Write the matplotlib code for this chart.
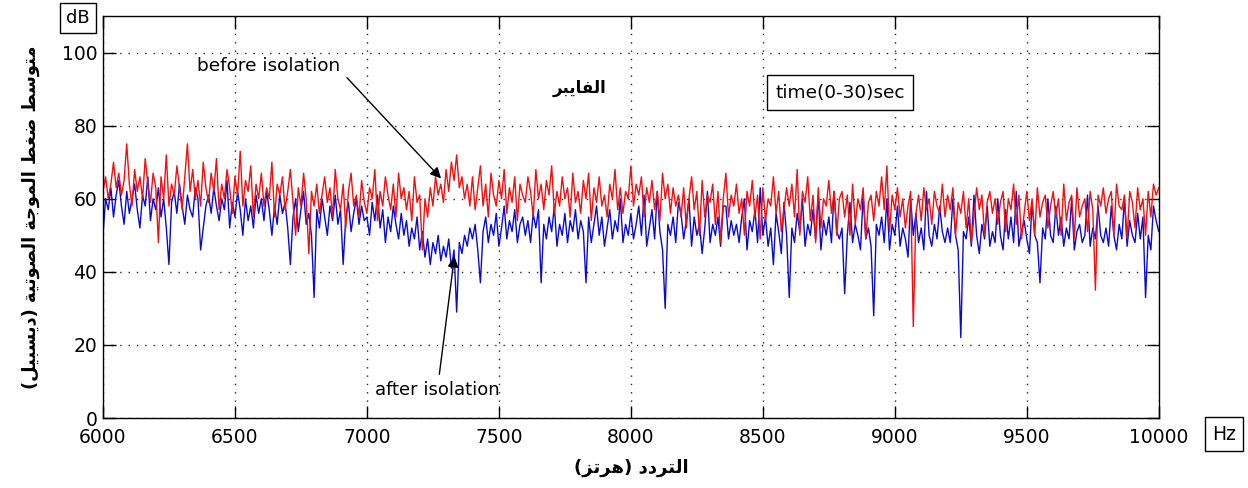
import numpy as np
from matplotlib import pyplot as plt

# ---data (10 Hz steps, 6000..10000 Hz)--------------------------------------
freq = np.arange(6000, 10001, 10)

before = [
    62, 66, 60, 64, 70, 63, 67, 61, 65, 75, 64, 58, 68, 62, 66, 60, 71, 64, 59, 67,
    63, 48, 66, 60, 72, 58, 64, 61, 69, 63, 57, 66, 75, 62, 68, 60, 65, 58, 70, 63,
    59, 67, 62, 71, 57, 64, 60, 68, 63, 56, 66, 61, 73, 58, 65, 62, 69, 55, 64, 60,
    67, 58, 63, 60, 70, 55, 64, 61, 66, 57, 62, 68, 59, 50, 63, 58, 67, 60, 45, 62,
    58, 64, 56, 61, 66, 59, 63, 55, 68, 60, 57, 64, 52, 62, 67, 58, 61, 55, 65, 59,
    56, 63, 60, 68, 54, 62, 58, 66, 61, 57, 64, 55, 67, 60, 63, 57, 62, 54, 66, 59,
    61, 46, 60, 55, 63, 58, 66, 61, 64, 59, 68, 62, 70, 65, 72, 63, 66, 60, 64, 58,
    66, 57, 63, 69, 58, 64, 55, 67, 61, 58, 65, 60, 68, 56, 63, 59, 66, 54, 64, 61,
    59, 66, 62, 55, 68, 60, 64, 57, 65, 61, 69, 56, 62, 58, 66, 60, 63, 55, 67, 59,
    62, 56, 65, 60, 67, 54, 63, 59, 66, 58, 61, 55, 64, 60, 68, 57, 63, 56, 62, 60,
    69, 58, 64, 61, 66, 55, 63, 59, 65, 57, 62, 54, 67, 60, 64, 56, 63, 58, 61, 55,
    63, 52, 60, 66, 57, 62, 50, 65, 55, 61, 59, 64, 53, 62, 48, 60, 67, 55, 61, 58,
    64, 56, 60, 50, 62, 58, 65, 55, 61, 49, 63, 54, 60, 58, 66, 56, 62, 51, 57, 63,
    58, 64, 55, 68, 50, 62, 59, 66, 54, 61, 48, 63, 52, 60, 58, 65, 56, 62, 50, 60,
    62, 55, 61, 50, 64, 53, 60, 57, 63, 49, 59, 61, 54, 62, 58, 66, 57, 69, 51, 61,
    57, 63, 55, 60, 52, 58, 62, 25, 56, 61, 54, 63, 57, 60, 53, 62, 58, 56, 64, 55,
    61, 57, 63, 50, 59, 56, 62, 52, 60, 48, 55, 63, 57, 61, 50, 59, 62, 56, 60, 53,
    59, 62, 51, 60, 57, 64, 53, 61, 49, 56, 62, 54, 60, 50, 63, 55, 59, 61, 52, 58,
    62, 55, 60, 50, 64, 54, 59, 61, 49, 63, 55, 58, 60, 51, 62, 57, 35, 61, 58, 63,
    56, 60, 62, 50, 64, 58, 57, 61, 49, 62, 59, 52, 63, 57, 60, 50, 62, 55, 64, 61,
    63]

after = [
    50, 60, 57, 63, 55, 61, 65, 58, 53, 62, 56, 60, 64, 57, 52, 61, 58, 66, 54, 60,
    57, 63, 55, 60, 52, 42, 59, 62, 56, 64, 58, 53, 61, 57, 55, 63, 60, 46, 52, 58,
    61, 56, 63, 58, 54, 60, 57, 65, 52, 59, 55, 62, 57, 50, 60, 54, 58, 52, 61, 56,
    60, 54, 62, 57, 50, 58, 53, 61, 56, 59, 52, 42, 55, 60, 51, 57, 62, 53, 56, 50,
    33, 57, 52, 60, 55, 50, 58, 54, 61, 53, 57, 42, 55, 59, 51, 56, 60, 53, 58, 54,
    55, 50, 59, 54, 61, 52, 57, 48, 55, 51, 58, 53, 49, 56, 50, 54, 47, 52, 49, 55,
    46, 51, 44, 49, 42, 48, 45, 50, 43, 47, 44, 49, 41, 46, 29, 48, 45, 50, 47, 52,
    49, 53, 46, 37, 51, 55, 48, 53, 50, 56, 47, 52, 58, 49, 54, 51, 57, 48, 53, 55,
    50, 54, 48, 56, 52, 57, 37, 53, 49, 55, 51, 58, 47, 53, 50, 56, 48, 54, 51, 57,
    49, 54, 51, 37, 55, 48, 53, 58, 50, 55, 47, 52, 57, 49, 54, 51, 60, 48, 53, 50,
    56, 49, 53, 58, 50, 61, 47, 52, 57, 49, 62, 51, 46, 30, 53, 50, 55, 48, 59, 56,
    49, 54, 60, 47, 55, 50, 53, 45, 52, 62, 48, 53, 50, 55, 47, 58, 58, 49, 54, 50,
    53, 48, 55, 60, 46, 54, 51, 57, 48, 63, 50, 55, 47, 52, 42, 56, 51, 45, 59, 50,
    33, 52, 48, 56, 51, 60, 47, 53, 50, 57, 49, 61, 46, 54, 50, 55, 48, 62, 51, 49,
    52, 34, 50, 59, 48, 53, 50, 46, 61, 49, 52, 47, 28, 53, 50, 55, 48, 60, 46, 53,
    50, 58, 47, 52, 49, 44, 60, 50, 56, 48, 52, 46, 62, 50, 47, 53, 49, 58, 51, 48,
    52, 48, 60, 50, 46, 22, 51, 49, 55, 47, 61, 50, 45, 53, 49, 58, 47, 51, 48, 60,
    50, 46, 57, 49, 55, 48, 62, 47, 51, 54, 49, 45, 59, 50, 48, 37, 52, 49, 60, 50,
    48, 58, 50, 55, 47, 52, 49, 60, 46, 51, 53, 48, 50, 61, 47, 52, 49, 58, 50, 48,
    52, 47, 58, 50, 46, 53, 49, 60, 47, 54, 50, 48, 56, 49, 55, 33, 50, 46, 58, 54,
    51]

xticks = [6000, 6500, 7000, 7500, 8000, 8500, 9000, 9500, 10000]
yticks = [0, 20, 40, 60, 80, 100]

ylabel_txt = 'متوسط ضغط الموجة الصوتية (ديسبيل)'
xlabel_txt = 'التردد (هرتز)'
mat_txt = 'الفايبر'

# ---arabic shaping (matplotlib draws no joined forms by itself)-----------
# iso, fin, ini, med ; None -> letter does not join to the next one
FORMS = {
    'ا': ('\uFE8D', '\uFE8E', None, None),
    'ب': ('\uFE8F', '\uFE90', '\uFE91', '\uFE92'),
    'ة': ('\uFE93', '\uFE94', None, None),
    'ت': ('\uFE95', '\uFE96', '\uFE97', '\uFE98'),
    'ج': ('\uFE9D', '\uFE9E', '\uFE9F', '\uFEA0'),
    'د': ('\uFEA9', '\uFEAA', None, None),
    'ر': ('\uFEAD', '\uFEAE', None, None),
    'ز': ('\uFEAF', '\uFEB0', None, None),
    'س': ('\uFEB1', '\uFEB2', '\uFEB3', '\uFEB4'),
    'ص': ('\uFEB9', '\uFEBA', '\uFEBB', '\uFEBC'),
    'ض': ('\uFEBD', '\uFEBE', '\uFEBF', '\uFEC0'),
    'ط': ('\uFEC1', '\uFEC2', '\uFEC3', '\uFEC4'),
    'غ': ('\uFECD', '\uFECE', '\uFECF', '\uFED0'),
    'ف': ('\uFED1', '\uFED2', '\uFED3', '\uFED4'),
    'ل': ('\uFEDD', '\uFEDE', '\uFEDF', '\uFEE0'),
    'م': ('\uFEE1', '\uFEE2', '\uFEE3', '\uFEE4'),
    'ه': ('\uFEE9', '\uFEEA', '\uFEEB', '\uFEEC'),
    'و': ('\uFEED', '\uFEEE', None, None),
    'ي': ('\uFEF1', '\uFEF2', '\uFEF3', '\uFEF4'),
}


def shape(text):
    out = []
    for i, ch in enumerate(text):
        if ch not in FORMS:
            out.append(ch)
            continue
        prev = text[i - 1] if i > 0 else ''
        nxt = text[i + 1] if i + 1 < len(text) else ''
        jp = prev in FORMS and FORMS[prev][2] is not None
        jn = FORMS[ch][2] is not None and nxt in FORMS
        iso, fin, ini, med = FORMS[ch]
        if jp and jn:
            out.append(med)
        elif jp:
            out.append(fin)
        elif jn:
            out.append(ini)
        else:
            out.append(iso)
    s = ''.join(reversed(out))
    return s.translate(str.maketrans('()', ')('))


# ---plot------------------------------------------------------------------
plt.rcParams['font.family'] = ['DejaVu Sans']
fig = plt.figure(figsize=(12.48, 4.88), dpi=100, facecolor='w')
ax = fig.add_axes([0.0825, 0.1434, 0.846, 0.8238])

ax.plot(freq, after, color='#0a0ad0', lw=1.0)
ax.plot(freq, before, color='#f01010', lw=1.0)

ax.set_xlim(6000, 10000)
ax.set_ylim(0, 110)
ax.set_xticks(xticks)
ax.set_yticks(yticks)
ax.tick_params(direction='in', length=9, width=1, top=True, right=True,
               labelsize=13.5, colors='k')
ax.tick_params(axis='x', pad=7)
ax.tick_params(axis='y', pad=4)
ax.grid(True, color='0.15', linestyle=(0, (1, 5)), linewidth=1)
for sp in ax.spines.values():
    sp.set_linewidth(1)
    sp.set_color('k')

ax.set_xlabel(shape(xlabel_txt), fontsize=13, fontweight='bold', labelpad=9)
ax.set_ylabel(shape(ylabel_txt), fontsize=12.8, fontweight='bold', labelpad=16)

ax.text(6629, 96.4, 'before isolation', fontsize=13.3, ha='center', va='center')
ax.annotate('', xy=(7288, 65), xytext=(6917, 93.7),
            arrowprops=dict(arrowstyle='-|>', color='k', lw=1, mutation_scale=16))
ax.text(7265, 7.7, 'after isolation', fontsize=13, ha='center', va='center')
ax.annotate('', xy=(7333, 45), xytext=(7273, 11.2),
            arrowprops=dict(arrowstyle='-|>', color='k', lw=1, mutation_scale=16))

ax.text(7807, 90.4, shape(mat_txt), fontsize=12, fontweight='bold',
        ha='center', va='center')
ax.text(8792, 89, 'time(0-30)sec', fontsize=13.3, ha='center', va='center',
        bbox=dict(boxstyle='square,pad=0.45', fc='w', ec='k', lw=1))

fig.text(78 / 1248, 1 - 18 / 488, 'dB', fontsize=13, ha='center', va='center',
         bbox=dict(boxstyle='square,pad=0.35', fc='w', ec='k', lw=1))
fig.text(1224 / 1248, 1 - 434 / 488, 'Hz', fontsize=13.5, ha='center', va='center',
         bbox=dict(boxstyle='square,pad=0.4', fc='w', ec='k', lw=1))

plt.savefig('out.png', dpi=100)
